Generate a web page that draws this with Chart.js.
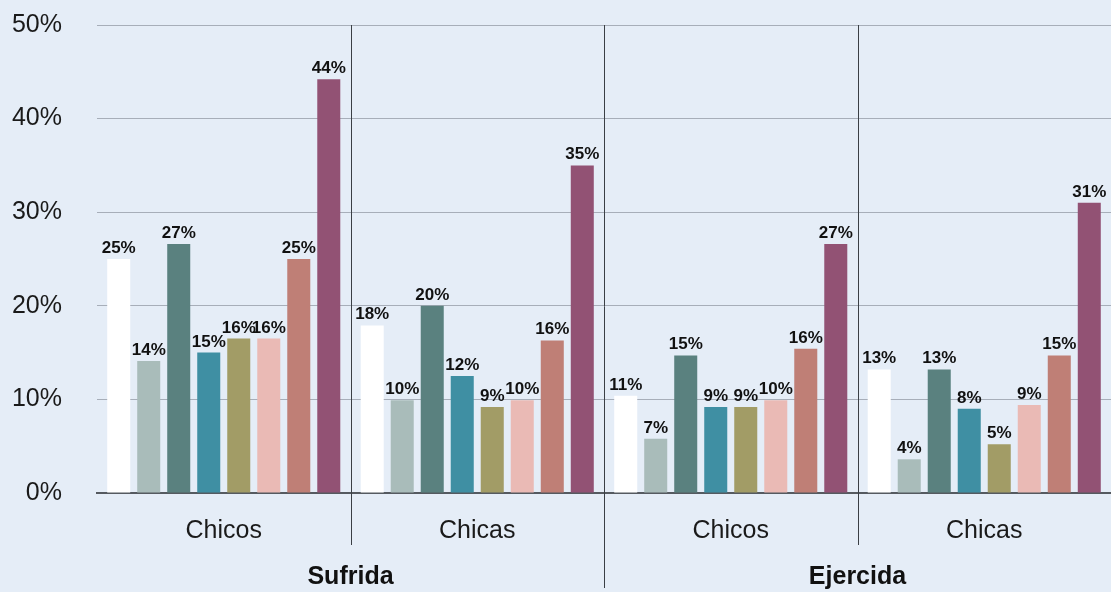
<!DOCTYPE html>
<html>
<head>
<meta charset="utf-8">
<script src="https://cdn.jsdelivr.net/npm/chart.js@4/dist/chart.umd.min.js"></script>
<style>
  html, body { margin: 0; padding: 0; background: #e5edf7; }
  #wrap { width: 1111px; height: 592px; position: relative; }
</style>
</head>
<body>
<div id="wrap"><canvas id="grafico"></canvas></div>
<script>
// categorias y grupos
const categorias = ['Chicos', 'Chicas', 'Chicos', 'Chicas'];
const grupos = ['Sufrida', 'Ejercida'];
const ticksY = [0, 10, 20, 30, 40, 50];

// valores (%)
const serie1 = [25.0, 17.9, 10.4, 13.2];
const serie2 = [14.1, 9.9, 5.8, 3.6];
const serie3 = [26.6, 20.0, 14.7, 13.2];
const serie4 = [15.0, 12.5, 9.2, 9.0];
const serie5 = [16.5, 9.2, 9.2, 5.2];
const serie6 = [16.5, 9.9, 9.9, 9.4];
const serie7 = [25.0, 16.3, 15.4, 14.7];
const serie8 = [44.2, 35.0, 26.6, 31.0];

// etiquetas tal como aparecen sobre cada barra
const etiq1 = ['25%', '18%', '11%', '13%'];
const etiq2 = ['14%', '10%', '7%', '4%'];
const etiq3 = ['27%', '20%', '15%', '13%'];
const etiq4 = ['15%', '12%', '9%', '8%'];
const etiq5 = ['16%', '9%', '9%', '5%'];
const etiq6 = ['16%', '10%', '10%', '9%'];
const etiq7 = ['25%', '16%', '16%', '15%'];
const etiq8 = ['44%', '35%', '27%', '31%'];

const series = [serie1, serie2, serie3, serie4, serie5, serie6, serie7, serie8];
const etiquetas = [etiq1, etiq2, etiq3, etiq4, etiq5, etiq6, etiq7, etiq8];
const colores = ['#ffffff', '#a9bcba', '#5a817f', '#3f8fa3', '#a29c66', '#eabab5', '#bf7f76', '#925274'];

const fondo = {
  id: 'fondo',
  beforeDraw(chart) {
    const ctx = chart.ctx;
    ctx.save();
    ctx.fillStyle = '#e5edf7';
    ctx.fillRect(0, 0, chart.width, chart.height);
    ctx.restore();
  }
};

// etiquetas de valor sobre las barras
const valores = {
  id: 'valores',
  afterDatasetsDraw(chart) {
    const ctx = chart.ctx;
    ctx.save();
    ctx.font = 'bold 17px "Liberation Sans", Arial, sans-serif';
    ctx.fillStyle = '#111';
    ctx.textAlign = 'center';
    ctx.textBaseline = 'alphabetic';
    chart.data.datasets.forEach((ds, i) => {
      chart.getDatasetMeta(i).data.forEach((bar, j) => {
        ctx.fillText(etiquetas[i][j], bar.x, bar.y - 6);
      });
    });
    ctx.restore();
  }
};

// lineas verticales entre categorias
const separadores = {
  id: 'separadores',
  afterDraw(chart) {
    const ctx = chart.ctx;
    const x = chart.scales.x;
    const area = chart.chartArea;
    ctx.save();
    ctx.strokeStyle = '#3a3f45';
    ctx.lineWidth = 1;
    for (let i = 0; i < categorias.length - 1; i++) {
      const px = Math.round((x.getPixelForTick(i) + x.getPixelForTick(i + 1)) / 2) + 0.5;
      const fin = (i === 1) ? chart.height - 4 : 545;
      ctx.beginPath();
      ctx.moveTo(px, area.top);
      ctx.lineTo(px, fin);
      ctx.stroke();
    }
    ctx.restore();
  }
};

const sinPaddingH = h => axis => {
  axis.height = h;
  axis.paddingLeft = 0;
  axis.paddingRight = 0;
};

new Chart(document.getElementById('grafico'), {
  type: 'bar',
  data: {
    labels: categorias,
    datasets: series.map((s, i) => ({
      label: 'Serie ' + (i + 1),
      data: s,
      backgroundColor: colores[i],
      borderWidth: 0,
      categoryPercentage: 0.947,
      barPercentage: 0.767
    }))
  },
  options: {
    responsive: true,
    maintainAspectRatio: false,
    animation: false,
    layout: { padding: { top: 25, left: 12, right: 0, bottom: 0 } },
    plugins: {
      legend: { display: false },
      tooltip: { enabled: false }
    },
    scales: {
      x: {
        grid: { display: false, drawTicks: false },
        border: { display: true, color: '#555a60', width: 2 },
        afterFit: sinPaddingH(53),
        ticks: {
          padding: 23,
          color: '#1a1a1a',
          font: { family: '"Liberation Sans", Arial, sans-serif', size: 25 }
        }
      },
      x2: {
        type: 'category',
        labels: grupos,
        position: 'bottom',
        grid: { display: false, drawTicks: false },
        border: { display: false },
        afterFit: sinPaddingH(46),
        ticks: {
          padding: 16,
          color: '#111',
          font: { family: '"Liberation Sans", Arial, sans-serif', size: 25, weight: 'bold' }
        }
      },
      y: {
        min: 0,
        max: 50,
        afterBuildTicks: axis => { axis.ticks = ticksY.map(v => ({ value: v })); },
        afterFit: axis => {
          axis.width = 85;
          axis.paddingTop = 0;
          axis.paddingBottom = 0;
        },
        grid: { color: 'rgba(90,98,108,0.45)', lineWidth: 1, drawTicks: false },
        border: { display: false },
        ticks: {
          padding: 35,
          color: '#1a1a1a',
          font: { family: '"Liberation Sans", Arial, sans-serif', size: 25 },
          callback: v => v + '%'
        }
      }
    }
  },
  plugins: [fondo, valores, separadores]
});
</script>
</body>
</html>
